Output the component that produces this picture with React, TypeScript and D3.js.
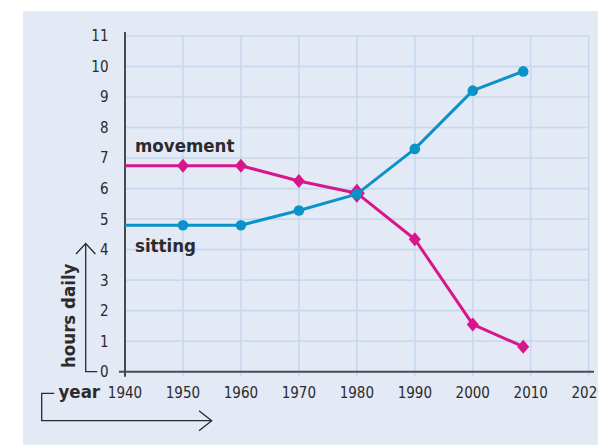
import React from 'react';
import * as d3 from 'd3';

// data
const years = [1940, 1950, 1960, 1970, 1980, 1990, 2000, 2008.7];
const sitting = [4.8, 4.8, 4.8, 5.28, 5.82, 7.3, 9.21, 9.84];
const movement = [6.75, 6.75, 6.75, 6.25, 5.85, 4.34, 1.55, 0.82];
const xTicks = [1940, 1950, 1960, 1970, 1980, 1990, 2000, 2010, 2020];
const yTicks = [0, 1, 2, 3, 4, 5, 6, 7, 8, 9, 10, 11];

const W = 598, H = 445;
const BG = '#e3e9f5', GRID = '#c8d8ef', AXIS = '#4a4a4d', TXT = '#2b2a2c';
const PINK = '#d8168c', BLUE = '#0b93c9';
const FONT = '"DejaVu Sans Condensed", "DejaVu Sans", sans-serif';

export default function App() {
  //比例尺
  const x = d3.scaleLinear().domain([1940, 2020]).range([125, 588.7]);
  const y = d3.scaleLinear().domain([0, 11]).range([371.7, 36]);

  const line = d3.line<number>()
    .x((_, i) => x(years[i]))
    .y(d => y(d));

  const diamond = (cx: number, cy: number, w: number, h: number) =>
    `M${cx},${cy - h}L${cx + w},${cy}L${cx},${cy + h}L${cx - w},${cy}Z`;

  return (
    <div style={{ position: 'fixed', left: 0, top: 0 }}>
      <svg width={W} height={H} style={{ display: 'block' }}>
        <rect x={23} y={11} width={W - 23} height={H - 11} fill={BG} />

        {/* grid */}
        {yTicks.filter(t => t > 0).map(t => (
          <line key={'gy' + t} x1={x(1940)} x2={x(2020)} y1={y(t)} y2={y(t)} stroke={GRID} strokeWidth={1.6} />
        ))}
        {xTicks.filter(t => t > 1940).map(t => (
          <line key={'gx' + t} x1={x(t)} x2={x(t)} y1={y(11)} y2={y(0) + 5} stroke={GRID} strokeWidth={1.6} />
        ))}

        {/* axes */}
        <line x1={x(1940)} x2={x(1940)} y1={y(11) - 4} y2={y(0) + 5} stroke={AXIS} strokeWidth={2} />
        <line x1={x(1940) - 6} x2={594} y1={y(0)} y2={y(0)} stroke={AXIS} strokeWidth={2} />

        {/* tick labels */}
        {yTicks.map(t => (
          <text key={'ty' + t} x={108.5} y={y(t)} dy="0.36em" textAnchor="end"
            fontFamily={FONT} fontSize={15} fill={TXT}>{t}</text>
        ))}
        {xTicks.map(t => (
          <text key={'tx' + t} x={x(t)} y={398} textAnchor="middle"
            fontFamily={FONT} fontSize={15} fill={TXT}>{t}</text>
        ))}

        {/* axis titles with arrows */}
        <path d={`M97.3,${y(0)}H85.7V243.5M76,254L85.7,243.5L95.4,254`} fill="none" stroke={TXT} strokeWidth={1.3} />
        <text transform={`translate(75,368) rotate(-90)`} fontFamily={FONT} fontWeight="bold" fontSize={18.5} fill={TXT}>hours daily</text>
        <path d="M54.3,393.3H41.7V420.7H211.7M199,410.7L211.7,420.7L199,430.7" fill="none" stroke={TXT} strokeWidth={1.3} />
        <text x={58.5} y={398} fontFamily={FONT} fontWeight="bold" fontSize={18.5} fill={TXT}>year</text>

        {/* series */}
        <path d={line(movement) || ''} fill="none" stroke={PINK} strokeWidth={3} strokeLinejoin="round" />
        {movement.map((v, i) => i > 0 && (
          <path key={'m' + i} d={Math.abs(v - sitting[i]) < 0.1
            ? diamond(x(years[i]), y(v), 8, 9.5)
            : diamond(x(years[i]), y(v), 6, 7)} fill={PINK} />
        ))}
        <path d={line(sitting) || ''} fill="none" stroke={BLUE} strokeWidth={3} strokeLinejoin="round" />
        {sitting.map((v, i) => i > 0 && (
          <circle key={'s' + i} cx={x(years[i])} cy={y(v)} r={5.3} fill={BLUE} />
        ))}

        <text x={135} y={152} fontFamily={FONT} fontWeight="bold" fontSize={18.5} fill={TXT}>movement</text>
        <text x={135} y={251.5} fontFamily={FONT} fontWeight="bold" fontSize={18.5} fill={TXT}>sitting</text>
      </svg>
    </div>
  );
}
